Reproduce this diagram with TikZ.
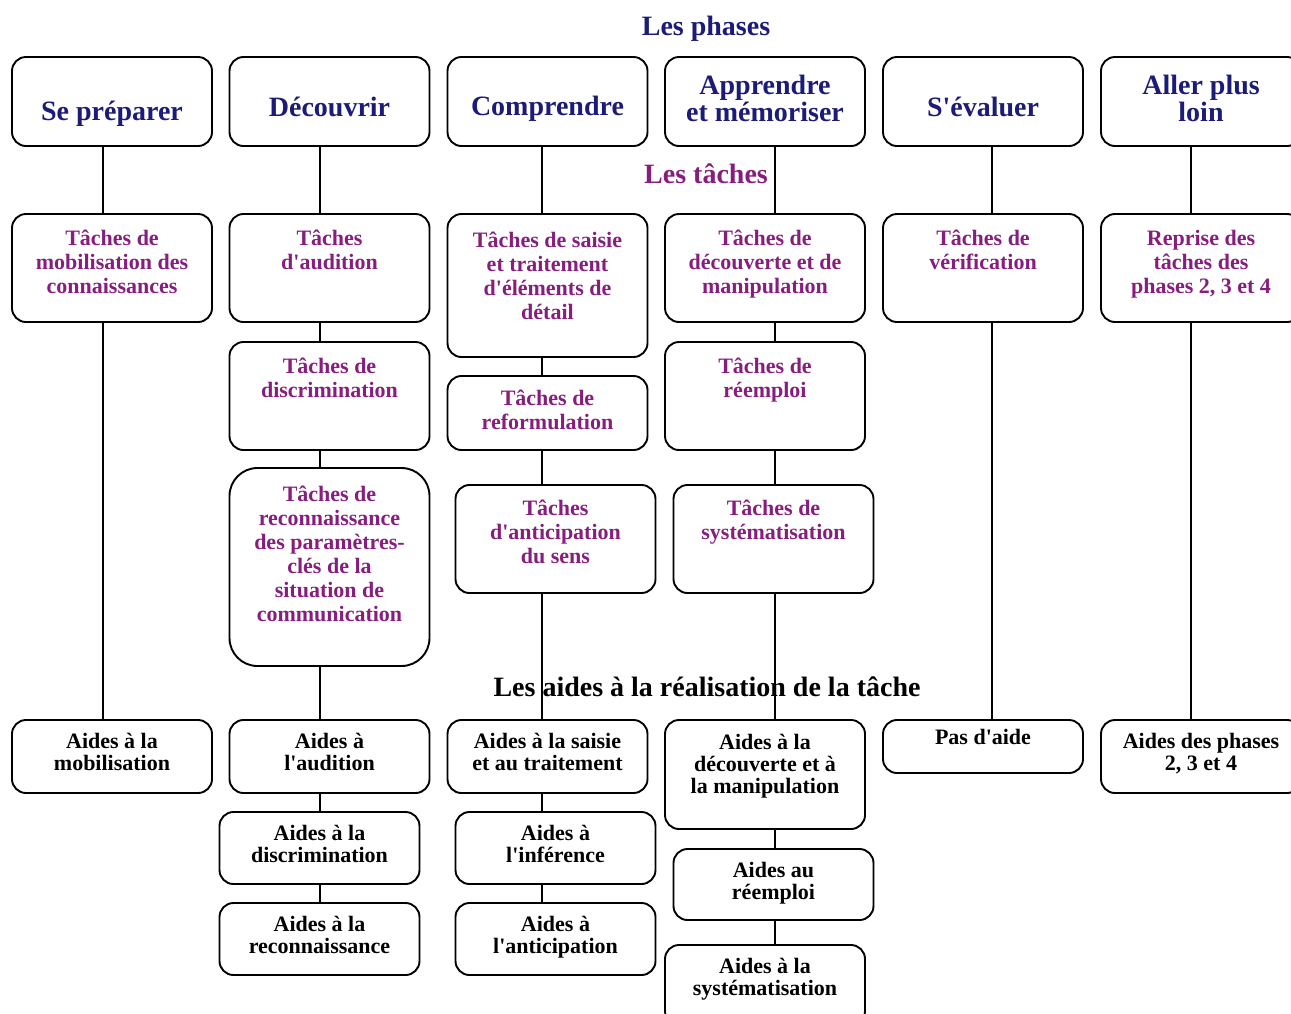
\documentclass[tikz,border=0pt]{standalone}
\usepackage{fontspec}
\setmainfont{Liberation Serif}
\usetikzlibrary{positioning}
\definecolor{phasecol}{RGB}{28,28,120}
\definecolor{tachecol}{RGB}{135,30,125}
\newcommand{\apos}{\textquotesingle}
\begin{document}
\begin{tikzpicture}[x=1pt,y=-1pt,
    box/.style={draw,line width=1.9pt,rounded corners=14pt,minimum width=200pt,inner sep=0pt},
    phasetext/.style={text=phasecol,font=\fontsize{28}{27}\selectfont\bfseries,align=center,inner sep=0pt},
    tachetext/.style={text=tachecol,font=\fontsize{22}{24}\selectfont\bfseries,align=center,inner sep=0pt},
    aidetext/.style={font=\fontsize{22}{22}\selectfont\bfseries,align=center,inner sep=0pt},
    heading/.style={font=\fontsize{28}{30}\selectfont\bfseries,inner sep=0pt},
    link/.style={line width=1.9pt}]
    \useasboundingbox (0,0) rectangle (1291,1013);
    % set coordinates
    \coordinate (c1) at (103,0);
    \coordinate (c2) at (320,0);
    \coordinate (c3) at (542,0);
    \coordinate (c4) at (775,0);
    \coordinate (c5) at (992,0);
    \coordinate (c6) at (1191,0);
    % headings
    \node [heading,text=phasecol] (hphases) at (706,29) {Les phases};
    \node [heading,text=tachecol] (htaches) at (706,174) {Les tâches};
    \node [heading] (haides) at (707,687) {Les aides à la réalisation de la tâche};
    % draw phase boxes
    \node [box,minimum height=89pt] (p1) at (112,101.5) {};
    \node [box,minimum height=89pt] (p2) at (329.5,101.5) {};
    \node [box,minimum height=89pt] (p3) at (547.5,101.5) {};
    \node [box,minimum height=89pt] (p4) at (765,101.5) {};
    \node [box,minimum height=89pt] (p5) at (983,101.5) {};
    \node [box,minimum height=89pt] (p6) at (1201,101.5) {};
    % draw task boxes
    \node [box,minimum height=108pt] (t1a) at (112,268) {};
    \node [box,minimum height=108pt] (t2a) at (329.5,268) {};
    \node [box,minimum height=108pt] (t2b) at (329.5,396) {};
    \node [box,minimum height=198pt,rounded corners=28pt] (t2c) at (329.5,567) {};
    \node [box,minimum height=143pt] (t3a) at (547.5,285.5) {};
    \node [box,minimum height=74pt] (t3b) at (547.5,413) {};
    \node [box,minimum height=108pt] (t3c) at (555.5,539) {};
    \node [box,minimum height=108pt] (t4a) at (765,268) {};
    \node [box,minimum height=108pt] (t4b) at (765,396) {};
    \node [box,minimum height=108pt] (t4c) at (773.5,539) {};
    \node [box,minimum height=108pt] (t5a) at (983,268) {};
    \node [box,minimum height=108pt] (t6a) at (1201,268) {};
    % draw aid boxes
    \node [box,minimum height=73pt] (a1a) at (112,756.5) {};
    \node [box,minimum height=73pt] (a2a) at (329.5,756.5) {};
    \node [box,minimum height=72pt] (a2b) at (319.5,848) {};
    \node [box,minimum height=72pt] (a2c) at (319.5,939) {};
    \node [box,minimum height=73pt] (a3a) at (547.5,756.5) {};
    \node [box,minimum height=72pt] (a3b) at (555.5,848) {};
    \node [box,minimum height=72pt] (a3c) at (555.5,939) {};
    \node [box,minimum height=109pt] (a4a) at (765,774.5) {};
    \node [box,minimum height=71pt] (a4b) at (773.5,884.5) {};
    \node [box,minimum height=80pt] (a4c) at (765,985) {};
    \node [box,minimum height=53pt] (a5a) at (983,746.5) {};
    \node [box,minimum height=73pt] (a6a) at (1201,756.5) {};
    % draw connectors
    \draw [link] (p1.south -| c1) -- (t1a.north -| c1);
    \draw [link] (t1a.south -| c1) -- (a1a.north -| c1);
    \draw [link] (p2.south -| c2) -- (t2a.north -| c2);
    \draw [link] (t2a.south -| c2) -- (t2b.north -| c2);
    \draw [link] (t2b.south -| c2) -- (t2c.north -| c2);
    \draw [link] (t2c.south -| c2) -- (a2a.north -| c2);
    \draw [link] (a2a.south -| c2) -- (a2b.north -| c2);
    \draw [link] (a2b.south -| c2) -- (a2c.north -| c2);
    \draw [link] (p3.south -| c3) -- (t3a.north -| c3);
    \draw [link] (t3a.south -| c3) -- (t3b.north -| c3);
    \draw [link] (t3b.south -| c3) -- (t3c.north -| c3);
    \draw [link] (t3c.south -| c3) -- (a3a.north -| c3);
    \draw [link] (a3a.south -| c3) -- (a3b.north -| c3);
    \draw [link] (a3b.south -| c3) -- (a3c.north -| c3);
    \draw [link] (p4.south -| c4) -- (t4a.north -| c4);
    \draw [link] (t4a.south -| c4) -- (t4b.north -| c4);
    \draw [link] (t4b.south -| c4) -- (t4c.north -| c4);
    \draw [link] (t4c.south -| c4) -- (a4a.north -| c4);
    \draw [link] (a4a.south -| c4) -- (a4b.north -| c4);
    \draw [link] (a4b.south -| c4) -- (a4c.north -| c4);
    \draw [link] (p5.south -| c5) -- (t5a.north -| c5);
    \draw [link] (t5a.south -| c5) -- (a5a.north -| c5);
    \draw [link] (p6.south -| c6) -- (t6a.north -| c6);
    \draw [link] (t6a.south -| c6) -- (a6a.north -| c6);
    % add phase labels
    \node [phasetext,below=45pt of p1.north] {Se préparer};
    \node [phasetext,below=41pt of p2.north] {Découvrir};
    \node [phasetext,below=40pt of p3.north] {Comprendre};
    \node [phasetext,below=19pt of p4.north] {Apprendre\\et mémoriser};
    \node [phasetext,below=41pt of p5.north] {S\apos évaluer};
    \node [phasetext,below=19pt of p6.north] {Aller plus\\loin};
    % add task labels
    \node [tachetext,below=17pt of t1a.north] {Tâches de\\mobilisation des\\connaissances};
    \node [tachetext,below=17pt of t2a.north] {Tâches\\d\apos audition};
    \node [tachetext,below=17pt of t2b.north] {Tâches de\\discrimination};
    \node [tachetext,below=19pt of t2c.north] {Tâches de\\reconnaissance\\des paramètres-\\clés de la\\situation de\\communication};
    \node [tachetext,below=19pt of t3a.north] {Tâches de saisie\\et traitement\\d\apos éléments de\\détail};
    \node [tachetext,below=15pt of t3b.north] {Tâches de\\reformulation};
    \node [tachetext,below=16pt of t3c.north] {Tâches\\d\apos anticipation\\du sens};
    \node [tachetext,below=17pt of t4a.north] {Tâches de\\découverte et de\\manipulation};
    \node [tachetext,below=17pt of t4b.north] {Tâches de\\réemploi};
    \node [tachetext,below=16pt of t4c.north] {Tâches de\\systématisation};
    \node [tachetext,below=17pt of t5a.north] {Tâches de\\vérification};
    \node [tachetext,below=17pt of t6a.north] {Reprise des\\tâches des\\phases 2, 3 et 4};
    % add aid labels
    \node [aidetext,below=14pt of a1a.north] {Aides à la\\mobilisation};
    \node [aidetext,below=14pt of a2a.north] {Aides à\\l\apos audition};
    \node [aidetext,below=14pt of a2b.north] {Aides à la\\discrimination};
    \node [aidetext,below=14pt of a2c.north] {Aides à la\\reconnaissance};
    \node [aidetext,below=14pt of a3a.north] {Aides à la saisie\\et au traitement};
    \node [aidetext,below=14pt of a3b.north] {Aides à\\l\apos inférence};
    \node [aidetext,below=14pt of a3c.north] {Aides à\\l\apos anticipation};
    \node [aidetext,below=15pt of a4a.north] {Aides à la\\découverte et à\\la manipulation};
    \node [aidetext,below=14pt of a4b.north] {Aides au\\réemploi};
    \node [aidetext,below=14pt of a4c.north] {Aides à la\\systématisation};
    \node [aidetext,below=10pt of a5a.north] {Pas d\apos aide};
    \node [aidetext,below=14pt of a6a.north] {Aides des phases\\2, 3 et 4};
\end{tikzpicture}
\end{document}
